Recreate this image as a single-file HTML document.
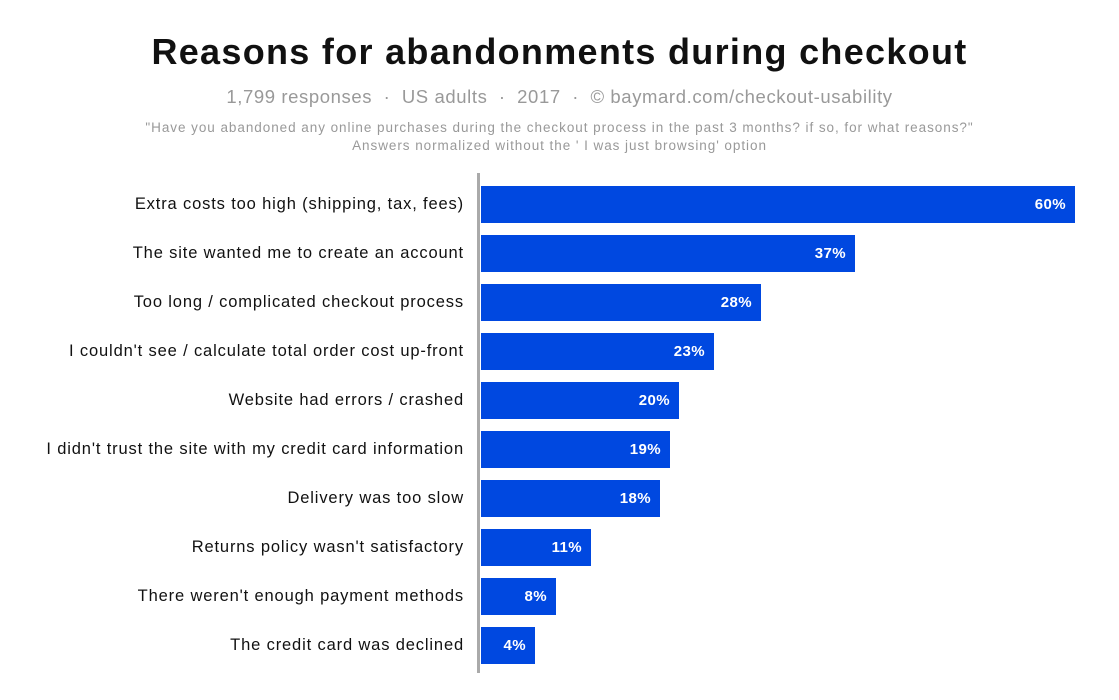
<!DOCTYPE html>
<html><head><meta charset="utf-8"><style>
body{margin:0;width:1119px;height:700px;background:#fff;font-family:"Liberation Sans",sans-serif;position:relative;overflow:hidden}
.t{position:absolute;left:0;width:1119px;text-align:center;white-space:nowrap}
.bar{position:absolute;left:481px;height:37px;background:#0048e0;color:#fff;font-weight:bold;font-size:15px;line-height:37px;text-align:right;box-sizing:border-box;padding-right:9px;letter-spacing:0.4px}
.lab{position:absolute;right:655px;height:37px;line-height:37px;font-size:16.5px;color:#111;white-space:nowrap;letter-spacing:0.85px}
</style></head><body>
<div class="t" style="top:31px;font-size:36px;font-weight:bold;color:#111;letter-spacing:1.3px">Reasons for abandonments during checkout</div>
<div class="t" style="top:86px;font-size:18.5px;color:#999;letter-spacing:0.6px">1,799 responses &nbsp;·&nbsp; US adults &nbsp;·&nbsp; 2017 &nbsp;·&nbsp; © baymard.com/checkout-usability</div>
<div class="t" style="top:120px;font-size:13.5px;color:#999;letter-spacing:0.95px">"Have you abandoned any online purchases during the checkout process in the past 3 months? if so, for what reasons?"</div>
<div class="t" style="top:138px;font-size:13.5px;color:#999;letter-spacing:0.95px">Answers normalized without the ' I was just browsing' option</div>
<div style="position:absolute;left:477px;top:173px;width:3px;height:500px;background:#aaa"></div>
<div class="lab" style="top:186px">Extra costs too high (shipping, tax, fees)</div><div class="bar" style="top:186px;width:594px">60%</div>
<div class="lab" style="top:235px">The site wanted me to create an account</div><div class="bar" style="top:235px;width:374px">37%</div>
<div class="lab" style="top:284px">Too long / complicated checkout process</div><div class="bar" style="top:284px;width:280px">28%</div>
<div class="lab" style="top:333px">I couldn't see / calculate total order cost up-front</div><div class="bar" style="top:333px;width:233px">23%</div>
<div class="lab" style="top:382px">Website had errors / crashed</div><div class="bar" style="top:382px;width:198px">20%</div>
<div class="lab" style="top:431px">I didn't trust the site with my credit card information</div><div class="bar" style="top:431px;width:189px">19%</div>
<div class="lab" style="top:480px">Delivery was too slow</div><div class="bar" style="top:480px;width:179px">18%</div>
<div class="lab" style="top:529px">Returns policy wasn't satisfactory</div><div class="bar" style="top:529px;width:110px">11%</div>
<div class="lab" style="top:578px">There weren't enough payment methods</div><div class="bar" style="top:578px;width:75px">8%</div>
<div class="lab" style="top:627px">The credit card was declined</div><div class="bar" style="top:627px;width:54px">4%</div>
</body></html>
